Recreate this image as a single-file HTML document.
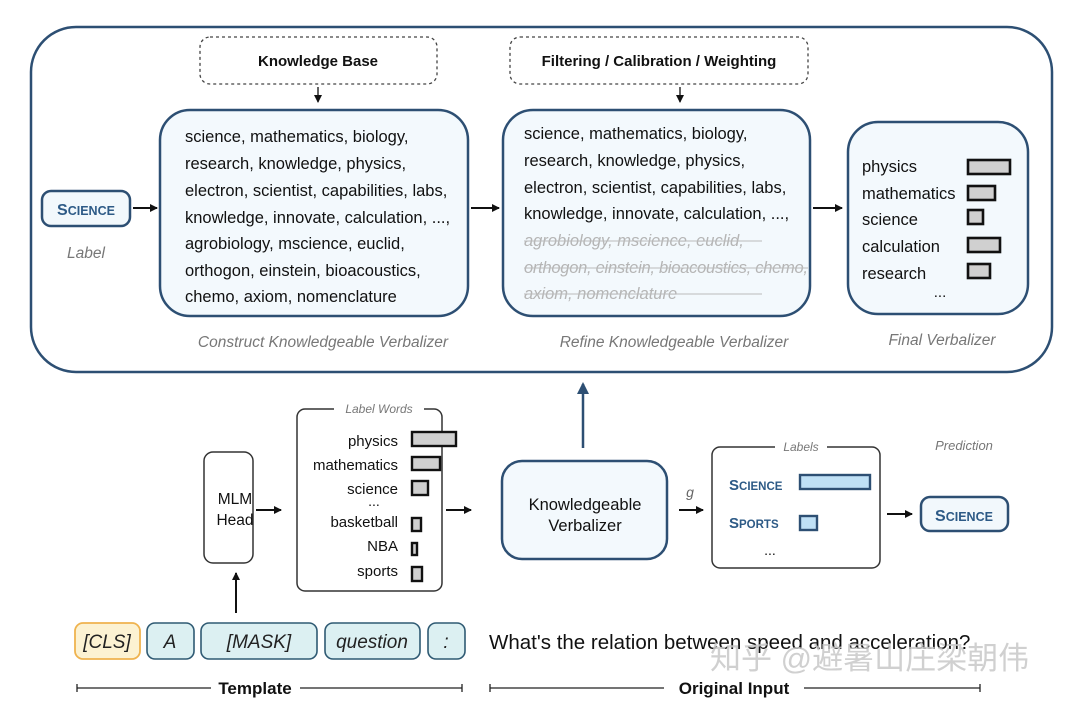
<!DOCTYPE html>
<html><head><meta charset="utf-8"><style>
html,body{margin:0;padding:0;background:#fff}
svg{display:block;font-family:"Liberation Sans","Noto Sans CJK SC",sans-serif}
.t{font-size:16.5px;fill:#111}
.g{font-size:16.5px;fill:#b5b5b5;font-style:italic}
.cap{font-size:15.5px;fill:#777;font-style:italic}
.sc{font-weight:bold;fill:#2d5a86}
</style></head><body>
<svg width="1080" height="716" viewBox="0 0 1080 716" xmlns="http://www.w3.org/2000/svg">
<defs>
<marker id="a" markerWidth="8" markerHeight="8" refX="7" refY="4" orient="auto" markerUnits="userSpaceOnUse"><path d="M0,0 L8,4 L0,8 z" fill="#111"/></marker>
<marker id="ab" markerWidth="12" markerHeight="12" refX="10" refY="6" orient="auto" markerUnits="userSpaceOnUse"><path d="M0,0 L12,6 L0,12 z" fill="#2d4f73"/></marker>
</defs>
<rect x="31" y="27" width="1021" height="345" rx="45" fill="#fff" stroke="#2d4f73" stroke-width="2.5"/>
<rect x="200" y="37" width="237" height="47" rx="10" fill="#fff" stroke="#444" stroke-width="1.3" stroke-dasharray="3,3"/>
<text x="318" y="66" text-anchor="middle" font-size="15" font-weight="bold" fill="#111">Knowledge Base</text>
<rect x="510" y="37" width="298" height="47" rx="10" fill="#fff" stroke="#444" stroke-width="1.3" stroke-dasharray="3,3"/>
<text x="659" y="66" text-anchor="middle" font-size="15" font-weight="bold" fill="#111">Filtering / Calibration / Weighting</text>
<line x1="318" y1="87" x2="318" y2="102" stroke="#111" stroke-width="1.3" marker-end="url(#a)"/>
<line x1="680" y1="87" x2="680" y2="102" stroke="#111" stroke-width="1.3" marker-end="url(#a)"/>

<rect x="42" y="191" width="88" height="35" rx="9" fill="#f2f8fc" stroke="#2d4f73" stroke-width="2.5"/>
<text x="86" y="215" text-anchor="middle" class="sc" font-size="16">S<tspan font-size="12.5">CIENCE</tspan></text>
<text x="86" y="258" text-anchor="middle" class="cap">Label</text>
<line x1="133" y1="208" x2="157" y2="208" stroke="#111" stroke-width="2" marker-end="url(#a)"/>

<rect x="160" y="110" width="308" height="206" rx="30" fill="#f3f9fd" stroke="#2d4f73" stroke-width="2.5"/>
<g class="t">
<text x="185" y="142">science, mathematics, biology,</text>
<text x="185" y="169">research, knowledge, physics,</text>
<text x="185" y="196">electron, scientist, capabilities, labs,</text>
<text x="185" y="223">knowledge, innovate, calculation, ...,</text>
<text x="185" y="249">agrobiology, mscience,  euclid,</text>
<text x="185" y="276">orthogon, einstein, bioacoustics,</text>
<text x="185" y="302">chemo, axiom, nomenclature</text>
</g>
<text x="323" y="347" text-anchor="middle" class="cap">Construct Knowledgeable Verbalizer</text>
<line x1="471" y1="208" x2="499" y2="208" stroke="#111" stroke-width="2" marker-end="url(#a)"/>

<rect x="503" y="110" width="307" height="206" rx="30" fill="#f3f9fd" stroke="#2d4f73" stroke-width="2.5"/>
<g class="t">
<text x="524" y="139">science, mathematics, biology,</text>
<text x="524" y="166">research, knowledge, physics,</text>
<text x="524" y="193">electron, scientist, capabilities, labs,</text>
<text x="524" y="219">knowledge, innovate, calculation, ...,</text>
</g>
<g class="g">
<text x="524" y="246">agrobiology, mscience,  euclid,</text>
<text x="524" y="273" textLength="284">orthogon, einstein, bioacoustics, chemo,</text>
<text x="524" y="299">axiom, nomenclature</text>
</g>
<g stroke="#bbb" stroke-width="1">
<line x1="524" y1="241" x2="762" y2="241"/><line x1="524" y1="268" x2="808" y2="268"/><line x1="524" y1="294" x2="762" y2="294"/>
</g>
<text x="674" y="347" text-anchor="middle" class="cap">Refine Knowledgeable Verbalizer</text>
<line x1="813" y1="208" x2="842" y2="208" stroke="#111" stroke-width="2" marker-end="url(#a)"/>

<rect x="848" y="122" width="180" height="192" rx="30" fill="#f3f9fd" stroke="#2d4f73" stroke-width="2.5"/>
<g class="t">
<text x="862" y="172">physics</text><text x="862" y="199">mathematics</text><text x="862" y="225">science</text><text x="862" y="252">calculation</text><text x="862" y="279">research</text>
</g>
<text x="940" y="297" text-anchor="middle" font-size="15" fill="#111">...</text>
<g fill="#d0d0d0" stroke="#111" stroke-width="2.6">
<rect x="968" y="160" width="42" height="14"/><rect x="968" y="186" width="27" height="14"/><rect x="968" y="210" width="15" height="14"/><rect x="968" y="238" width="32" height="14"/><rect x="968" y="264" width="22" height="14"/>
</g>
<text x="942" y="345" text-anchor="middle" class="cap">Final Verbalizer</text>

<line x1="583" y1="448" x2="583" y2="384" stroke="#2d4f73" stroke-width="2.5" marker-end="url(#ab)"/>

<rect x="204" y="452" width="49" height="111" rx="9" fill="#fff" stroke="#333" stroke-width="1.5"/>
<text x="235" y="504" text-anchor="middle" font-size="15.5" fill="#111">MLM</text>
<text x="235" y="525" text-anchor="middle" font-size="15.5" fill="#111">Head</text>
<line x1="236" y1="613" x2="236" y2="573" stroke="#111" stroke-width="2" marker-end="url(#a)"/>
<line x1="256" y1="510" x2="281" y2="510" stroke="#111" stroke-width="2" marker-end="url(#a)"/>

<rect x="297" y="409" width="145" height="182" rx="8" fill="#fff" stroke="#333" stroke-width="1.5"/>
<rect x="334" y="401" width="90" height="14" fill="#fff"/>
<text x="379" y="413" text-anchor="middle" font-size="12" fill="#777" font-style="italic">Label Words</text>
<g font-size="15" fill="#111" text-anchor="end">
<text x="398" y="446">physics</text><text x="398" y="470">mathematics</text><text x="398" y="494">science</text><text x="398" y="527">basketball</text><text x="398" y="551">NBA</text><text x="398" y="576">sports</text>
</g>
<text x="374" y="506" text-anchor="middle" font-size="14" fill="#111">...</text>
<g fill="#d0d0d0" stroke="#111" stroke-width="2.4">
<rect x="412" y="432" width="44" height="14"/><rect x="412" y="457" width="28" height="13"/><rect x="412" y="481" width="16" height="14"/><rect x="412" y="518" width="9" height="13"/><rect x="412" y="543" width="5" height="12"/><rect x="412" y="567" width="10" height="14"/>
</g>
<line x1="446" y1="510" x2="471" y2="510" stroke="#111" stroke-width="2" marker-end="url(#a)"/>

<rect x="502" y="461" width="165" height="98" rx="20" fill="#f3f9fd" stroke="#2d4f73" stroke-width="2.5"/>
<text x="585" y="510" text-anchor="middle" font-size="16.5" fill="#111">Knowledgeable</text>
<text x="585" y="531" text-anchor="middle" font-size="16.5" fill="#111">Verbalizer</text>
<text x="690" y="497" text-anchor="middle" font-size="14" fill="#666" font-style="italic">g</text>
<line x1="679" y1="510" x2="703" y2="510" stroke="#111" stroke-width="2" marker-end="url(#a)"/>

<rect x="712" y="447" width="168" height="121" rx="8" fill="#fff" stroke="#333" stroke-width="1.5"/>
<rect x="775" y="439" width="52" height="14" fill="#fff"/>
<text x="801" y="451" text-anchor="middle" font-size="12" fill="#777" font-style="italic">Labels</text>
<text x="729" y="490" class="sc" font-size="15">S<tspan font-size="11.5">CIENCE</tspan></text>
<text x="729" y="528" class="sc" font-size="15">S<tspan font-size="11.5">PORTS</tspan></text>
<g fill="#bfe0f5" stroke="#2d4f73" stroke-width="2.4">
<rect x="800" y="475" width="70" height="14"/><rect x="800" y="516" width="17" height="14"/>
</g>
<text x="770" y="555" text-anchor="middle" font-size="14" fill="#111">...</text>
<line x1="887" y1="514" x2="912" y2="514" stroke="#111" stroke-width="2" marker-end="url(#a)"/>
<text x="964" y="450" text-anchor="middle" font-size="13" fill="#777" font-style="italic">Prediction</text>
<rect x="921" y="497" width="87" height="34" rx="9" fill="#f2f8fc" stroke="#2d4f73" stroke-width="2.5"/>
<text x="964" y="521" text-anchor="middle" class="sc" font-size="16">S<tspan font-size="12.5">CIENCE</tspan></text>

<rect x="75" y="623" width="65" height="36" rx="8" fill="#fcf2d2" stroke="#efb34f" stroke-width="1.8"/>
<g fill="#dcf0f2" stroke="#2f5a73" stroke-width="1.6">
<rect x="147" y="623" width="47" height="36" rx="8"/><rect x="201" y="623" width="116" height="36" rx="8"/><rect x="325" y="623" width="95" height="36" rx="8"/><rect x="428" y="623" width="37" height="36" rx="8"/>
</g>
<g font-size="19" font-style="italic" fill="#222" text-anchor="middle">
<text x="107" y="648">[CLS]</text><text x="170" y="648">A</text><text x="259" y="648">[MASK]</text><text x="372" y="648">question</text><text x="446" y="648">:</text>
</g>
<text x="489" y="649" font-size="20.5" fill="#111">What's the relation between speed and acceleration?</text>
<text x="710" y="669" font-size="31" fill="#c8c8c8" opacity="0.85">知乎 @避暑山庄梁朝伟</text>

<g stroke="#222" stroke-width="1.3">
<line x1="77" y1="688" x2="211" y2="688"/><line x1="300" y1="688" x2="462" y2="688"/><line x1="77" y1="684" x2="77" y2="692"/><line x1="462" y1="684" x2="462" y2="692"/>
<line x1="490" y1="688" x2="664" y2="688"/><line x1="804" y1="688" x2="980" y2="688"/><line x1="490" y1="684" x2="490" y2="692"/><line x1="980" y1="684" x2="980" y2="692"/>
</g>
<text x="255" y="694" text-anchor="middle" font-size="17" font-weight="bold" fill="#111">Template</text>
<text x="734" y="694" text-anchor="middle" font-size="17" font-weight="bold" fill="#111">Original Input</text>
</svg>
</body></html>
